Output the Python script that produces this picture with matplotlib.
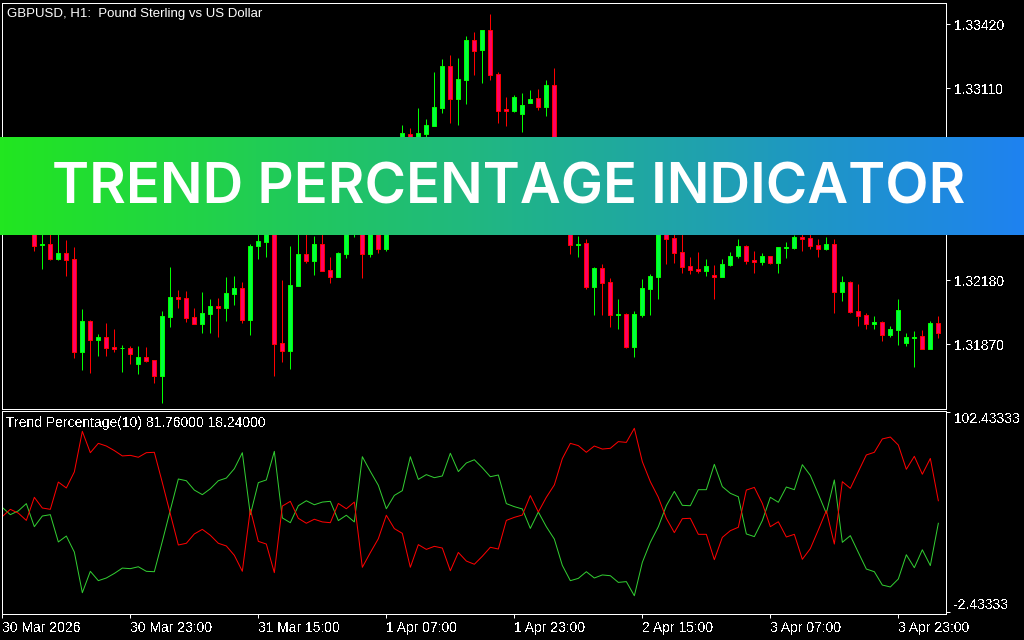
import numpy as np
import matplotlib
matplotlib.use('Agg')
import matplotlib.pyplot as plt
from matplotlib.colors import LinearSegmentedColormap

plt.rcParams['font.family'] = ['Liberation Sans', 'DejaVu Sans']
plt.rcParams['text.antialiased'] = False

# hourly GBPUSD bars, the ones behind the banner are guesses
opens = [1.32545, 1.32617, 1.32569, 1.32511, 1.32433, 1.32351, 1.32356, 1.32283, 1.32312, 1.32283,
         1.31833, 1.31983, 1.31891, 1.31905, 1.31857, 1.31850, 1.31852, 1.31774, 1.31808, 1.31794,
         1.31716, 1.32002, 1.32099, 1.32094, 1.32002, 1.31968, 1.32017, 1.32056, 1.32046, 1.32114,
         1.32143, 1.31988, 1.32346, 1.32366, 1.32472, 1.31876, 1.31838, 1.32152, 1.32307, 1.32274,
         1.32356, 1.32230, 1.32196, 1.32307, 1.32448, 1.32545, 1.32307, 1.32496, 1.32332, 1.32569,
         1.32714, 1.32889, 1.32763, 1.32889, 1.32927, 1.33015, 1.33218, 1.33058, 1.33150, 1.33344,
         1.33296, 1.33393, 1.33179, 1.33010, 1.33000, 1.32986, 1.33039, 1.33063, 1.33019, 1.33126,
         1.32569, 1.32472, 1.32352, 1.32361, 1.32148, 1.32240, 1.32172, 1.32012, 1.32017, 1.31857,
         1.32012, 1.32138, 1.32196, 1.32448, 1.32385, 1.32317, 1.32249, 1.32235, 1.32225, 1.32206,
         1.32196, 1.32254, 1.32298, 1.32346, 1.32278, 1.32269, 1.32298, 1.32264, 1.32339, 1.32336,
         1.32390, 1.32385, 1.32351, 1.32332, 1.32356, 1.32123, 1.32172, 1.32031, 1.32012, 1.31968,
         1.31978, 1.31915, 1.31939, 1.31876, 1.31903, 1.31910, 1.31847, 1.31973]
highs = [1.32666, 1.32642, 1.32593, 1.32545, 1.32462, 1.32448, 1.32424, 1.32448, 1.32375, 1.32341,
         1.32041, 1.31988, 1.31920, 1.31973, 1.31944, 1.31867, 1.31862, 1.31862, 1.31857, 1.31794,
         1.32031, 1.32244, 1.32133, 1.32128, 1.32046, 1.32123, 1.32089, 1.32094, 1.32196, 1.32201,
         1.32172, 1.32356, 1.32472, 1.32496, 1.32511, 1.32181, 1.32346, 1.32448, 1.32448, 1.32395,
         1.32448, 1.32293, 1.32317, 1.32545, 1.32617, 1.32569, 1.32545, 1.32530, 1.32617, 1.32763,
         1.32932, 1.32918, 1.33015, 1.32961, 1.33189, 1.33252, 1.33271, 1.33257, 1.33363, 1.33383,
         1.33393, 1.33470, 1.33189, 1.33068, 1.33078, 1.33087, 1.33102, 1.33107, 1.33150, 1.33208,
         1.32617, 1.32496, 1.32395, 1.32380, 1.32244, 1.32259, 1.32191, 1.32089, 1.32022, 1.32031,
         1.32186, 1.32211, 1.32496, 1.32496, 1.32424, 1.32424, 1.32293, 1.32317, 1.32283, 1.32254,
         1.32283, 1.32317, 1.32380, 1.32351, 1.32322, 1.32312, 1.32298, 1.32341, 1.32366, 1.32399,
         1.32414, 1.32414, 1.32380, 1.32390, 1.32380, 1.32201, 1.32177, 1.32162, 1.32022, 1.32007,
         1.31983, 1.31959, 1.32089, 1.31925, 1.31934, 1.31939, 1.31983, 1.32007]
lows = [1.32496, 1.32521, 1.32472, 1.32414, 1.32322, 1.32235, 1.32278, 1.32278, 1.32201, 1.31803,
        1.31745, 1.31731, 1.31813, 1.31813, 1.31833, 1.31736, 1.31774, 1.31726, 1.31784, 1.31682,
        1.31586, 1.31954, 1.32046, 1.31978, 1.31968, 1.31925, 1.31925, 1.31905, 1.31983, 1.32060,
        1.31973, 1.31915, 1.32283, 1.32293, 1.31716, 1.31784, 1.31750, 1.32152, 1.32264, 1.32206,
        1.32225, 1.32167, 1.32196, 1.32288, 1.32390, 1.32191, 1.32293, 1.32312, 1.32322, 1.32521,
        1.32690, 1.32714, 1.32739, 1.32874, 1.32927, 1.32990, 1.32942, 1.32932, 1.33034, 1.33175,
        1.33136, 1.33150, 1.32942, 1.32927, 1.32995, 1.32898, 1.33039, 1.33005, 1.32976, 1.32521,
        1.32424, 1.32307, 1.32293, 1.32138, 1.32012, 1.32012, 1.31954, 1.31944, 1.31852, 1.31808,
        1.32002, 1.32012, 1.32089, 1.32259, 1.32264, 1.32215, 1.32211, 1.32215, 1.32201, 1.32089,
        1.32196, 1.32249, 1.32288, 1.32259, 1.32215, 1.32254, 1.32259, 1.32215, 1.32288, 1.32332,
        1.32322, 1.32332, 1.32293, 1.32327, 1.32022, 1.32080, 1.32022, 1.31959, 1.31944, 1.31944,
        1.31886, 1.31905, 1.31867, 1.31862, 1.31760, 1.31847, 1.31847, 1.31900]
closes = [1.32617, 1.32569, 1.32511, 1.32448, 1.32346, 1.32356, 1.32283, 1.32312, 1.32278, 1.31833,
          1.31983, 1.31891, 1.31905, 1.31852, 1.31847, 1.31854, 1.31823, 1.31808, 1.31789, 1.31716,
          1.32007, 1.32099, 1.32089, 1.31997, 1.31968, 1.32022, 1.32056, 1.32046, 1.32118, 1.32143,
          1.31988, 1.32346, 1.32370, 1.32448, 1.31871, 1.31838, 1.32157, 1.32307, 1.32274, 1.32356,
          1.32225, 1.32196, 1.32312, 1.32496, 1.32569, 1.32307, 1.32521, 1.32332, 1.32569, 1.32714,
          1.32894, 1.32763, 1.32894, 1.32932, 1.33019, 1.33218, 1.33058, 1.33155, 1.33344, 1.33291,
          1.33393, 1.33175, 1.33000, 1.33000, 1.33068, 1.33029, 1.33058, 1.33019, 1.33126, 1.32569,
          1.32472, 1.32351, 1.32356, 1.32148, 1.32240, 1.32167, 1.32012, 1.32016, 1.31857, 1.32017,
          1.32143, 1.32201, 1.32448, 1.32380, 1.32312, 1.32244, 1.32230, 1.32225, 1.32249, 1.32196,
          1.32259, 1.32298, 1.32346, 1.32274, 1.32269, 1.32298, 1.32264, 1.32341, 1.32343, 1.32390,
          1.32380, 1.32346, 1.32332, 1.32356, 1.32123, 1.32172, 1.32026, 1.32007, 1.31968, 1.31978,
          1.31915, 1.31944, 1.32036, 1.31905, 1.31907, 1.31847, 1.31973, 1.31925]

trend_down = [47.6, 51.4, 49.4, 45.6, 57.7, 52.1, 51.4, 65.7, 62.6, 71.0,
              92.3, 81.1, 86.0, 84.6, 82.2, 79.4, 79.7, 78.7, 81.1, 81.3,
              65.4, 49.0, 32.7, 33.6, 38.5, 40.9, 37.8, 33.6, 32.2, 27.3,
              18.9, 51.4, 34.6, 33.2, 18.2, 53.1, 55.6, 46.7, 44.1, 46.2,
              44.8, 44.4, 54.5, 51.7, 55.2, 21.0, 28.7, 36.0, 48.3, 41.3,
              38.8, 21.0, 32.9, 30.4, 32.0, 31.1, 19.2, 28.8, 24.3, 22.6,
              26.8, 31.5, 30.6, 45.6, 47.2, 48.4, 58.6, 50.0, 57.7, 64.2,
              78.0, 86.0, 84.8, 81.3, 84.6, 83.0, 83.4, 86.9, 86.5, 93.9,
              76.4, 65.9, 57.7, 46.7, 39.2, 46.5, 46.7, 38.3, 38.3, 25.0,
              36.7, 40.2, 42.0, 61.5, 62.9, 54.5, 42.3, 44.9, 36.9, 38.3,
              25.2, 30.8, 40.6, 50.7, 33.2, 65.9, 62.4, 71.2, 79.9, 81.3,
              88.3, 89.3, 85.1, 72.4, 79.2, 69.8, 78.1, 55.9]
trend_up = [52.4, 48.6, 50.6, 54.4, 42.3, 47.9, 48.6, 34.3, 37.4, 29.0,
            7.7, 18.9, 14.0, 15.4, 17.8, 20.6, 20.3, 21.3, 18.9, 18.7,
            34.6, 51.0, 67.3, 66.4, 61.5, 59.1, 62.2, 66.4, 67.8, 72.7,
            81.1, 48.6, 65.4, 66.8, 81.8, 46.9, 44.4, 53.3, 55.9, 53.8,
            55.2, 55.6, 45.5, 48.3, 44.8, 79.0, 71.3, 64.0, 51.7, 58.7,
            61.2, 79.0, 67.1, 69.6, 68.0, 68.9, 80.8, 71.2, 75.7, 77.4,
            73.2, 68.5, 69.4, 54.4, 52.8, 51.6, 41.4, 50.0, 42.3, 35.8,
            22.0, 14.0, 15.2, 18.7, 15.4, 17.0, 16.6, 13.1, 13.5, 6.1,
            23.6, 34.1, 42.3, 53.3, 60.8, 53.5, 53.3, 61.7, 61.7, 75.0,
            63.3, 59.8, 58.0, 38.5, 37.1, 45.5, 57.7, 55.1, 63.1, 61.7,
            74.8, 69.2, 59.4, 49.3, 66.8, 34.1, 37.6, 28.8, 20.1, 18.7,
            11.7, 10.7, 14.9, 27.6, 20.8, 30.2, 21.9, 44.1]

price_ticks = [1.33420, 1.33110, 1.32180, 1.31870]
trend_ticks = [102.43333, -2.43333]
time_ticks = [0, 16, 32, 48, 64, 80, 96, 112]
time_labels = ['30 Mar 2026', '30 Mar 23:00', '31 Mar 15:00', '1 Apr 07:00',
               '1 Apr 23:00', '2 Apr 15:00', '3 Apr 07:00', '3 Apr 23:00']

BULL = '#00ff00'
BULL_FILL = '#00ff40'
BEAR = '#ff0000'
BEAR_FILL = '#ff0064'
W, H = 1024, 640


def px_axes(fig, left, top, right, bottom):
    return fig.add_axes([left / W, 1 - bottom / H, (right - left) / W, (bottom - top) / H])


fig = plt.figure(figsize=(W / 100, H / 100), dpi=100, facecolor='black')
ax = px_axes(fig, 2, 2.8, 946, 408.8)
ax2 = px_axes(fig, 2, 410.8, 946, 613.8)

o, h, l, c = map(np.array, (opens, highs, lows, closes))
x = np.arange(len(o))
up = c >= o

ax.vlines(x[up], l[up], h[up], color=BULL, lw=0.72)
ax.vlines(x[~up], l[~up], h[~up], color=BEAR, lw=0.72)
ax.bar(x[up], (c - o)[up], bottom=o[up], width=0.5, facecolor=BULL_FILL, edgecolor=BULL,
       linewidth=0.72, zorder=3)
ax.bar(x[~up], (c - o)[~up], bottom=o[~up], width=0.5, facecolor=BEAR_FILL, edgecolor=BEAR,
       linewidth=0.72, zorder=3)

ax2.plot(x, trend_up, color='#32cd32', lw=0.72)
ax2.plot(x, trend_down, color=BEAR, lw=0.72)

xlim = ((2 - 2.33) / 8, (946 - 2.33) / 8)
for a in (ax, ax2):
    a.set_facecolor('black')
    a.set_xlim(*xlim)
    for s in a.spines.values():
        s.set_color('white')
        s.set_linewidth(0.72)
    a.yaxis.tick_right()
    a.tick_params(axis='y', colors='white', length=3, width=0.72, pad=2.5, labelsize=10)
    a.tick_params(axis='x', colors='white', length=3, width=0.72, pad=2.5, labelsize=10)

ax.set_ylim(1.31558, 1.33524)
ax.set_yticks(price_ticks)
ax.set_yticklabels([f'{p:.5f}' for p in price_ticks])
ax.set_xticks([])

# 1 px is about 0.524 on the indicator scale
ax2.set_ylim(-3.37, 103.06)
ax2.set_yticks(trend_ticks)
labels = ax2.set_yticklabels([f'{v:.5f}' for v in trend_ticks])
labels[0].set_verticalalignment('top')
labels[1].set_verticalalignment('bottom')
ax2.set_xticks(time_ticks)
for t in ax2.set_xticklabels(time_labels):
    t.set_horizontalalignment('left')

fig.text(7 / W, 1 - 13.5 / H, 'GBPUSD, H1:  Pound Sterling vs US Dollar', color='white', fontsize=9.5,
         va='center', antialiased=True)
fig.text(6 / W, 1 - 423.5 / H, 'Trend Percentage(10) 81.76000 18.24000', color='white', fontsize=10, va='center')

# banner across the chart
banner = px_axes(fig, 0, 137, W, 235)
cmap = LinearSegmentedColormap.from_list('banner', ['#22e620', '#1e82f0'])
banner.imshow(np.linspace(0, 1, 512)[None, :], aspect='auto', cmap=cmap, extent=(0, W, 0, 1))
banner.axis('off')
banner.text(509, 0.47, 'TREND PERCENTAGE INDICATOR', color='white', fontsize=40.5,
            fontfamily='Inter', fontweight='semibold', ha='center', va='center', antialiased=True)

fig.savefig('out.png', dpi=100, facecolor='black')
